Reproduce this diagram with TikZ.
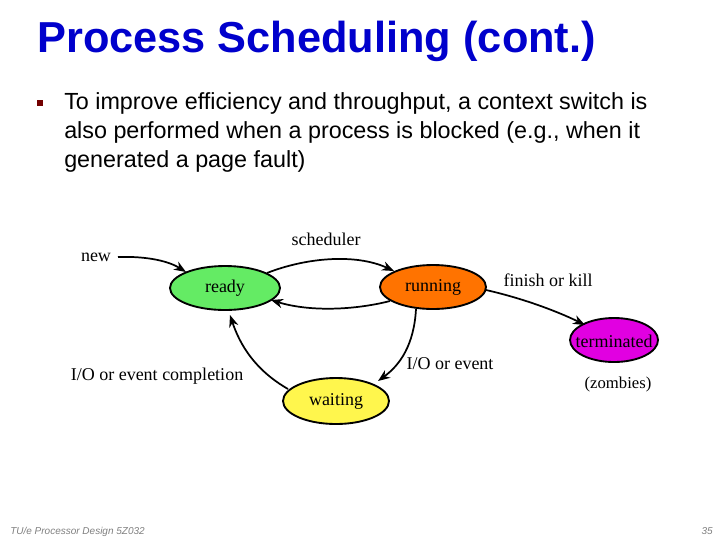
\documentclass[tikz,border=0pt]{standalone}
\usepackage{fontspec}
\setmainfont{Liberation Serif}
\newfontfamily\arial{Liberation Sans}
\usetikzlibrary{arrows.meta}
\definecolor{tblue}{RGB}{0,0,204}
\definecolor{cgreen}{RGB}{100,235,100}
\definecolor{cmag}{RGB}{225,0,225}
\begin{document}
\begin{tikzpicture}[x=0.75pt,y=-0.75pt,
  st/.style={draw,line width=1.4pt},
  ar/.style={-{Stealth[length=9pt,width=7pt]},line width=1.3pt},
  lb/.style={font=\fontsize{13.5}{14}\selectfont}]
\useasboundingbox (0,0) rectangle (720,540);
\fill[white] (0,0) rectangle (720,540);
\node[anchor=base west,text=tblue,font=\arial\bfseries\fontsize{32.5}{33}\selectfont,inner sep=0] (title) at (37,52) {Process Scheduling (cont.)};
\node[fill=red!45!black,minimum size=4pt,inner sep=0] (bul) at (40,103) {};
\node[anchor=north west,align=left,font=\arial\fontsize{17.5}{22}\selectfont,inner sep=0] (txt) at (64,92) {To improve efficiency and throughput, a context switch is\\also performed when a process is blocked (e.g., when it\\generated a page fault)};
\draw[st,fill=cgreen] (225,288) ellipse [x radius=55,y radius=22];
\node[lb] (ready) at (225,288) {ready};
\draw[st,fill=orange!90!red] (433,287) ellipse [x radius=53,y radius=22];
\node[lb] (running) at (433,287) {running};
\draw[st,fill=cmag] (614,340) ellipse [x radius=44,y radius=22];
\node[lb] (terminated) at (614,341) {terminated};
\draw[st,fill=yellow!70] (336,401) ellipse [x radius=53,y radius=23];
\node[lb] (waiting) at (336,401) {waiting};
\node[lb] (new) at (96,257) {new};
\coordinate (newend) at (118,257);
\draw[ar] (newend) .. controls (150,256) and (170,262) .. (186,272);
\draw[ar] (267,273) .. controls (305,258) and (355,253) .. (394,271);
\draw[ar] (390,301) .. controls (355,310) and (310,312) .. (271,300);
\draw[ar] (486,290) .. controls (530,300) and (565,315) .. (585,325);
\draw[ar] (416,309) .. controls (414,345) and (400,365) .. (378,381);
\draw[ar] (288,389) .. controls (255,370) and (240,345) .. (230,315);
\node[lb] (sch) at (326,239) {scheduler};
\node[lb] (fk) at (548,280) {finish or kill};
\node[lb] (io) at (450,364) {I/O or event};
\node[lb] (ioc) at (157,376) {I/O or event completion};
\node[lb,font=\fontsize{12.5}{13}\selectfont] (zomb) at (618,384) {(zombies)};
\node[anchor=base west,font=\arial\itshape\fontsize{7.5}{8}\selectfont,text=gray,inner sep=0] (foot) at (10,534) {TU/e Processor Design 5Z032};
\node[anchor=base east,font=\arial\itshape\fontsize{7.5}{8}\selectfont,text=gray,inner sep=0] (pg) at (713,534) {35};
\end{tikzpicture}
\end{document}
